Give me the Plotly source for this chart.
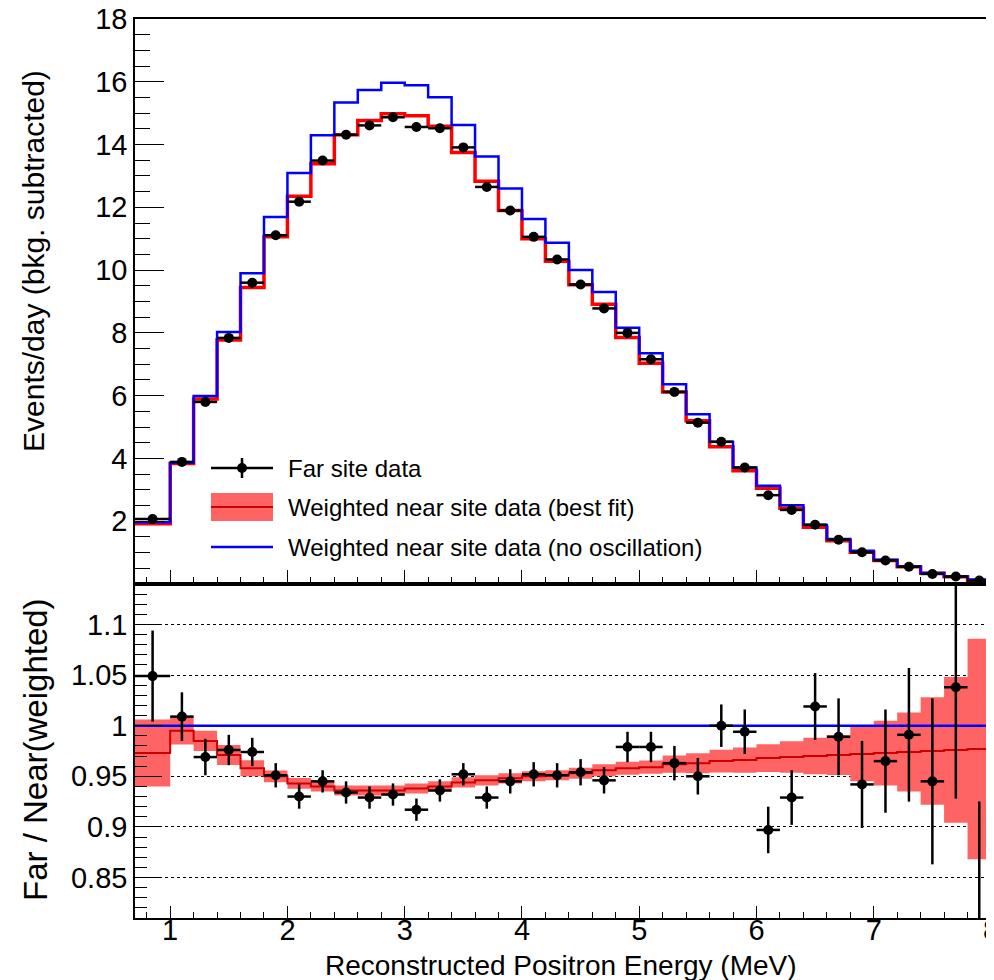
import plotly.graph_objects as go

# Bin edges (MeV): first bin is wider, then 0.2 MeV bins
edges = [0.7, 1.0, 1.2, 1.4, 1.6, 1.8, 2.0, 2.2, 2.4, 2.6, 2.8, 3.0, 3.2, 3.4,
         3.6, 3.8, 4.0, 4.2, 4.4, 4.6, 4.8, 5.0, 5.2, 5.4, 5.6, 5.8, 6.0, 6.2,
         6.4, 6.6, 6.8, 7.0, 7.2, 7.4, 7.6, 7.8, 8.0]

# Top panel: events/day
far_data = [2.07, 3.89, 5.80, 7.84, 9.60, 11.11, 12.18, 13.49, 14.31, 14.61,
            14.87, 14.56, 14.52, 13.91, 12.65, 11.90, 11.06, 10.34, 9.54, 8.78,
            8.00, 7.16, 6.12, 5.14, 4.53, 3.71, 2.83, 2.36, 1.89, 1.41,
            1.01, 0.75, 0.55, 0.32, 0.24, 0.11]
near_best_fit = [1.92, 3.84, 5.89, 7.77, 9.45, 11.06, 12.35, 13.39, 14.31, 14.77,
                 14.98, 14.92, 14.58, 13.75, 12.83, 11.90, 11.00, 10.28, 9.53, 8.91,
                 7.85, 7.03, 6.12, 5.20, 4.37, 3.61, 3.05, 2.41, 1.81, 1.38,
                 1.01, 0.75, 0.55, 0.34, 0.23, 0.11]
near_no_osc = [1.97, 3.86, 5.99, 8.03, 9.90, 11.69, 13.09, 14.30, 15.34, 15.74,
               15.97, 15.89, 15.51, 14.62, 13.62, 12.60, 11.63, 10.87, 10.00, 9.30,
               8.16, 7.35, 6.36, 5.41, 4.53, 3.71, 3.13, 2.51, 1.88, 1.43,
               1.06, 0.77, 0.56, 0.35, 0.24, 0.14]

# Bottom panel: far / near (weighted)
ratio = [1.049, 1.009, 0.969, 0.976, 0.974, 0.951, 0.930, 0.945, 0.934, 0.929,
         0.932, 0.917, 0.936, 0.952, 0.929, 0.945, 0.952, 0.951, 0.954, 0.946,
         0.979, 0.979, 0.963, 0.950, 1.000, 0.994, 0.897, 0.929, 1.019, 0.989,
         0.942, 0.965, 0.991, 0.945, 1.038, 0.770]
ratio_err = [0.045, 0.024, 0.018, 0.015, 0.014, 0.012, 0.012, 0.011, 0.011, 0.011,
             0.011, 0.011, 0.011, 0.011, 0.011, 0.012, 0.012, 0.012, 0.013, 0.013,
             0.015, 0.015, 0.017, 0.018, 0.021, 0.022, 0.023, 0.027, 0.033, 0.038,
             0.043, 0.051, 0.066, 0.082, 0.110, 0.155]
fit_ratio = [0.973, 0.995, 0.985, 0.971, 0.958, 0.950, 0.943, 0.940, 0.936, 0.936,
             0.936, 0.938, 0.940, 0.944, 0.946, 0.948, 0.950, 0.951, 0.953, 0.956,
             0.958, 0.959, 0.962, 0.963, 0.965, 0.966, 0.968, 0.969, 0.970, 0.971,
             0.972, 0.973, 0.974, 0.975, 0.976, 0.977]
fit_band = [0.033, 0.0137, 0.0099, 0.0099, 0.0079, 0.0058, 0.0053, 0.005, 0.005, 0.005,
            0.005, 0.005, 0.005, 0.005, 0.005, 0.005, 0.005, 0.005, 0.0055, 0.006,
            0.0065, 0.0066, 0.0086, 0.0099, 0.0112, 0.0124, 0.0137, 0.0156, 0.018, 0.0198,
            0.027, 0.032, 0.039, 0.053, 0.072, 0.109]

centers = [(edges[i] + edges[i + 1]) / 2 for i in range(len(edges) - 1)]
half_w = [(edges[i + 1] - edges[i]) / 2 for i in range(len(edges) - 1)]


def steps(vals):
    return vals + [vals[-1]]


W, H = 994, 980
OFF = 8  # the page body adds an 8px margin around the figure
FONT = "Liberation Sans, Arial, Helvetica, sans-serif"
BAND = "#ff6464"


def px(x):
    return (x - OFF) / W


def py(y):
    return 1 - (y - OFF) / H


fig = go.Figure()

# ---- top panel
fig.add_trace(go.Scatter(x=edges, y=steps(near_best_fit), mode="lines", line_shape="hv",
                         line=dict(color="#ff0000", width=3.5), xaxis="x", yaxis="y",
                         showlegend=False))
fig.add_trace(go.Scatter(x=edges, y=steps(near_no_osc), mode="lines", line_shape="hv",
                         line=dict(color="#0000ff", width=2.5), xaxis="x", yaxis="y",
                         showlegend=False))
fig.add_trace(go.Scatter(x=centers, y=far_data, mode="markers",
                         marker=dict(color="black", size=10),
                         error_x=dict(type="data", array=half_w, color="black", thickness=2.5, width=0),
                         xaxis="x", yaxis="y", showlegend=False))

# ---- bottom panel
lower = [r - b for r, b in zip(fit_ratio, fit_band)]
upper = [r + b for r, b in zip(fit_ratio, fit_band)]
fig.add_trace(go.Scatter(x=edges, y=steps(lower), mode="lines", line_shape="hv",
                         line=dict(width=0, color=BAND), xaxis="x2", yaxis="y2",
                         showlegend=False))
fig.add_trace(go.Scatter(x=edges, y=steps(upper), mode="lines", line_shape="hv",
                         line=dict(width=0, color=BAND), fill="tonexty", fillcolor=BAND,
                         xaxis="x2", yaxis="y2", showlegend=False))
fig.add_trace(go.Scatter(x=edges, y=steps(fit_ratio), mode="lines", line_shape="hv",
                         line=dict(color="#cc0000", width=2), xaxis="x2", yaxis="y2",
                         showlegend=False))
fig.add_trace(go.Scatter(x=[edges[0], edges[-1]], y=[1, 1], mode="lines",
                         line=dict(color="#0000ff", width=2.5), xaxis="x2", yaxis="y2",
                         showlegend=False))
fig.add_trace(go.Scatter(x=centers, y=ratio, mode="markers",
                         marker=dict(color="black", size=10),
                         error_x=dict(type="data", array=half_w, color="black", thickness=2.5, width=0),
                         error_y=dict(type="data", array=ratio_err, color="black", thickness=2.5, width=0),
                         xaxis="x2", yaxis="y2", showlegend=False))

xdom = [px(135), px(991)]
axis_common = dict(showline=True, linecolor="black", linewidth=1.5, mirror=True,
                   ticks="inside", tickcolor="black", tickwidth=1.2,
                   tickfont=dict(family=FONT, size=29, color="black"),
                   ticklabeloverflow="allow",
                   zeroline=False, automargin=False)

fig.update_layout(
    width=W, height=H,
    margin=dict(l=0, r=0, t=0, b=0, autoexpand=False),
    plot_bgcolor="white", paper_bgcolor="white",
    font=dict(family=FONT, color="black"),
    xaxis=dict(domain=xdom, range=[0.7, 8.0], anchor="y", showgrid=False,
               tick0=0, dtick=1, ticklen=14, showticklabels=False,
               minor=dict(ticks="inside", ticklen=7, dtick=0.2, tick0=0, tickcolor="black", showgrid=False),
               **axis_common),
    yaxis=dict(domain=[py(584), py(19)], range=[0, 18], anchor="x", showgrid=False,
               tickmode="array", tickvals=[2, 4, 6, 8, 10, 12, 14, 16, 18],
               ticktext=["2", "4", "6", "8", "10", "12", "14", "16", "18"], ticklen=29,
               minor=dict(ticks="inside", ticklen=15, dtick=0.5, tick0=0, tickcolor="black", showgrid=False),
               **axis_common),
    xaxis2=dict(domain=xdom, range=[0.7, 8.0], anchor="y2", showgrid=False,
                tick0=0, dtick=1, ticklen=12, ticklabelstandoff=-15,
                minor=dict(ticks="inside", ticklen=6, dtick=0.2, tick0=0, tickcolor="black", showgrid=False),
                **axis_common),
    yaxis2=dict(domain=[py(918), py(584)], range=[0.81, 1.14], anchor="x2",
                showgrid=True, gridcolor="black", griddash="dot", gridwidth=1,
                tickmode="array", tickvals=[0.85, 0.9, 0.95, 1.0, 1.05, 1.1],
                ticktext=["0.85", "0.9", "0.95", "1", "1.05", "1.1"], ticklen=27,
                minor=dict(ticks="inside", ticklen=12, dtick=0.01, tick0=0, tickcolor="black", showgrid=False),
                **axis_common),
)

annotations = [
    dict(text="Events/day (bkg. subtracted)", x=px(33), y=py(261), textangle=-90,
         font=dict(size=30)),
    dict(text="Far / Near(weighted)", x=px(35), y=py(750), textangle=-90,
         font=dict(size=33)),
    dict(text="Reconstructed Positron Energy (MeV)", x=px(561), y=py(965),
         font=dict(size=28)),
]
for a in annotations:
    a.update(xref="paper", yref="paper", showarrow=False, xanchor="center", yanchor="middle")

# hand-built legend in the top panel
leg_text = ["Far site data", "Weighted near site data (best fit)",
            "Weighted near site data (no oscillation)"]
leg_y = [468, 507, 547]
for t, yy in zip(leg_text, leg_y):
    annotations.append(dict(text=t, x=px(286), y=py(yy), xref="paper", yref="paper",
                            showarrow=False, xanchor="left", yanchor="middle",
                            font=dict(size=24)))

shapes = [
    dict(type="line", x0=px(211), x1=px(273), y0=py(468), y1=py(468),
         line=dict(color="black", width=2.5)),
    dict(type="line", x0=px(242), x1=px(242), y0=py(458), y1=py(478),
         line=dict(color="black", width=2.5)),
    dict(type="circle", x0=px(237), x1=px(247), y0=py(473), y1=py(463),
         fillcolor="black", line=dict(color="black", width=0)),
    dict(type="rect", x0=px(211), x1=px(273), y0=py(521), y1=py(493),
         fillcolor=BAND, line=dict(width=0)),
    dict(type="line", x0=px(211), x1=px(273), y0=py(507), y1=py(507),
         line=dict(color="#cc0000", width=2)),
    dict(type="line", x0=px(211), x1=px(273), y0=py(547), y1=py(547),
         line=dict(color="#0000ff", width=2.5)),
]
for s in shapes:
    s.update(xref="paper", yref="paper")

fig.update_layout(annotations=annotations, shapes=shapes)

fig.write_html("out.html")
